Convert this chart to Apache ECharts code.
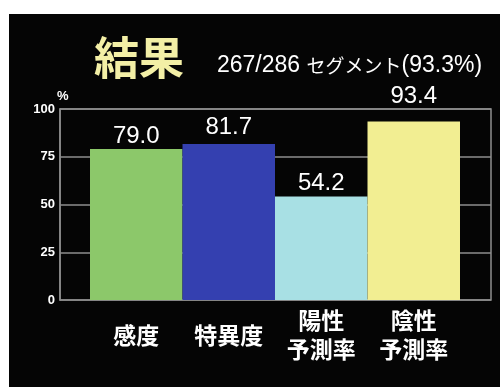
<!DOCTYPE html>
<html>
<head>
<meta charset="utf-8">
<script src="https://cdn.jsdelivr.net/npm/echarts@6/dist/echarts.min.js"></script>
<style>
html,body{margin:0;padding:0;background:#fff;}
#c{width:500px;height:387px;}
</style>
</head>
<body>
<div id="c"></div>
<script>
// ---- data ----
const categories = ['感度', '特異度', '陽性\n予測率', '陰性\n予測率'];
const values = [79.0, 81.7, 54.2, 93.4];
const yMin = 0, yMax = 100, yStep = 25;
const titleText = '結果';
const subtitleParts = ['267/286 ', 'セグメント', '(93.3%)'];
const yUnit = '%';

// ---- styles ----
const barColors = ['#8cc86a', '#3440b0', '#a8e0e4', '#f2ee92'];
const labelLift = [0, -4, 0, -12];
const gridColor = '#8e8e8e';

const chart = echarts.init(document.getElementById('c'), null, {renderer: 'canvas'});
chart.setOption({
  backgroundColor: '#ffffff',
  animation: false,
  graphic: [
    {type: 'rect', z: -10, shape: {x: 9, y: 14, width: 491, height: 373}, style: {fill: '#050505'}},
    {type: 'text', x: 139, y: 58, style: {
      text: titleText, fill: '#f3efa6', font: 'bold 45px "Noto Sans CJK JP"',
      textAlign: 'center', textVerticalAlign: 'middle'}},
    {type: 'text', x: 217, y: 66, style: {
      text: '{a|' + subtitleParts[0] + '}{k|' + subtitleParts[1] + '}{a|' + subtitleParts[2] + '}',
      fill: '#ffffff',
      textVerticalAlign: 'middle', textAlign: 'left',
      rich: {
        a: {fontFamily: '"Liberation Sans", Arial', fontSize: 23, fill: '#ffffff', color: '#ffffff'},
        k: {fontFamily: '"Noto Sans CJK JP"', fontSize: 19, fill: '#ffffff', color: '#ffffff'}
      }}}
  ],
  grid: [
    {left: 60, top: 109, width: 431, height: 191, show: true, borderColor: gridColor, borderWidth: 1.5, backgroundColor: 'transparent'},
    {left: 90, top: 109, width: 370, height: 191}
  ],
  xAxis: [
    {type: 'value', gridIndex: 0, show: false, min: 0, max: 1},
    {type: 'category', gridIndex: 1, data: categories,
      axisLine: {show: false}, axisTick: {show: false},
      axisLabel: {interval: 0, margin: 35, verticalAlign: 'middle', lineHeight: 29,
        color: '#ffffff', fontSize: 23, fontWeight: 'bold', fontFamily: '"Noto Sans CJK JP"'}}
  ],
  yAxis: [
    {type: 'value', gridIndex: 0, min: yMin, max: yMax, interval: yStep,
      name: yUnit, nameLocation: 'end', nameGap: 11,
      nameTextStyle: {color: '#ffffff', fontSize: 13, fontWeight: 'bold', align: 'left', verticalAlign: 'middle', padding: [0, 0, 0, -3], fontFamily: '"Liberation Sans", Arial'},
      axisLine: {show: true, lineStyle: {color: gridColor, width: 1.5}},
      axisTick: {show: false},
      splitLine: {show: true, lineStyle: {color: gridColor, width: 1.5}},
      axisLabel: {color: '#ffffff', fontSize: 13, fontWeight: 'bold', margin: 5, fontFamily: '"Liberation Sans", Arial'}},
    {type: 'value', gridIndex: 1, min: yMin, max: yMax, interval: yStep, show: false}
  ],
  series: [{
    type: 'bar', xAxisIndex: 1, yAxisIndex: 1,
    barCategoryGap: '0%', barWidth: '100%',
    data: values.map((v, i) => ({
      value: v,
      itemStyle: {color: barColors[i]},
      label: {offset: [0, labelLift[i]]}
    })),
    label: {show: true, position: 'top', distance: 1, color: '#ffffff', fontSize: 24,
      fontFamily: '"Liberation Sans", Arial', formatter: p => p.value.toFixed(1)}
  }]
});
</script>
</body>
</html>
